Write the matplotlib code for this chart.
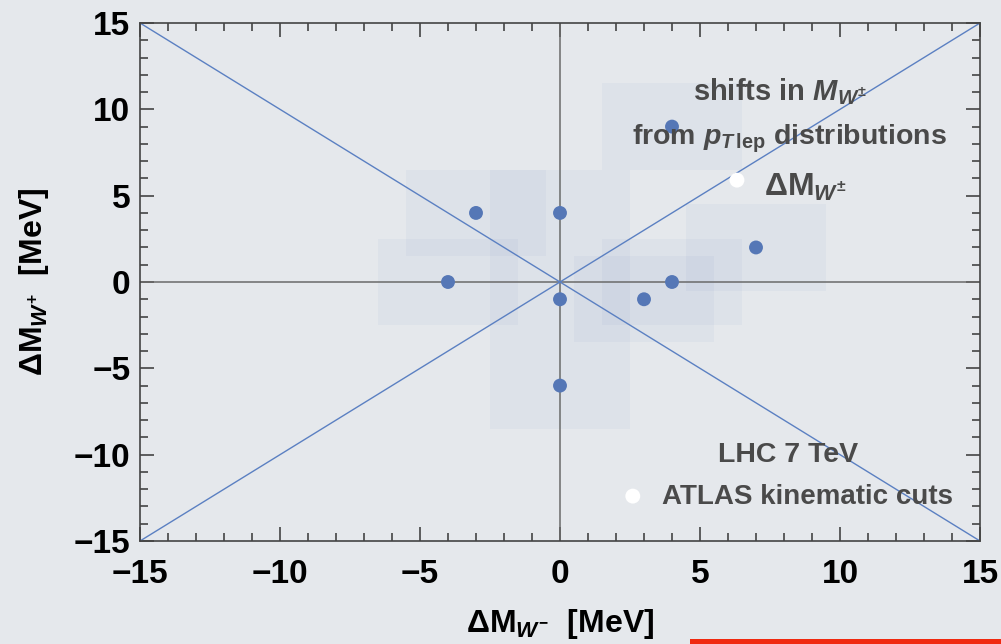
import matplotlib
matplotlib.use("Agg")
import matplotlib.pyplot as plt
from matplotlib.patches import Rectangle
from matplotlib.ticker import MultipleLocator

plt.rcParams['font.family'] = ['Liberation Sans', 'DejaVu Sans']
plt.rcParams['font.weight'] = 'bold'
plt.rcParams['mathtext.fontset'] = 'custom'
plt.rcParams['mathtext.rm'] = 'Liberation Sans:bold'
plt.rcParams['mathtext.bf'] = 'Liberation Sans:bold'
plt.rcParams['mathtext.it'] = 'Liberation Sans:bold:italic'

# Mass shifts (MeV) for W- (x) and W+ (y)
dm_wminus = [-4, -3, 0, 0, 0, 3, 4, 4, 7]
dm_wplus = [0, 4, 4, -1, -6, -1, 0, 9, 2]
half_width = 2.5  # half size of the uncertainty box around each shift

ticks = [-15, -10, -5, 0, 5, 10, 15]
lim = (-15, 15)

bg = '#e5e8ec'
blue = '#5577b6'
line_blue = '#5b80c2'
text_grey = '#4a4a4a'

fig = plt.figure(figsize=(10.01, 6.44), dpi=100, facecolor=bg)
ax = fig.add_axes([140 / 1001, 1 - 541 / 644, 840 / 1001, 518 / 644])
ax.set_facecolor(bg)
ax.set_xlim(*lim)
ax.set_ylim(*lim)

# uncertainty boxes
for x, y in zip(dm_wminus, dm_wplus):
    ax.add_patch(Rectangle((x - half_width, y - half_width), 2 * half_width, 2 * half_width,
                           facecolor=blue, alpha=0.05, edgecolor='none', zorder=1))

# reference axes and diagonals
ax.axhline(0, color='#6a6a6a', lw=1.1, zorder=2)
ax.axvline(0, color='#6a6a6a', lw=1.1, zorder=2)
ax.plot(lim, lim, color=line_blue, lw=1.0, zorder=2)
ax.plot(lim, lim[::-1], color=line_blue, lw=1.0, zorder=2)

ax.scatter(dm_wminus, dm_wplus, s=100, color=blue, edgecolors='none', zorder=4)

# in-plot annotations
ax.text(7.85, 11.0, r'shifts in $\mathit{M}_{\mathit{W}^{\pm}}$', ha='center', va='center',
        fontsize=21, color=text_grey, fontweight='bold', zorder=5)
ax.text(8.2, 8.3, r'from $\mathit{p}_{\mathit{T}\,\mathrm{lep}}$ distributions', ha='center', va='center',
        fontsize=20.5, color=text_grey, fontweight='bold', zorder=5)
ax.scatter([6.32], [5.9], s=115, color='white', edgecolors='none', zorder=5)
ax.text(7.3, 5.5, r'$\Delta\mathrm{M}_{\mathit{W}^{\pm}}$', ha='left', va='center',
        fontsize=23, color=text_grey, zorder=5)

ax.text(8.15, -10.0, 'LHC 7 TeV', ha='center', va='center',
        fontsize=20.5, color=text_grey, fontweight='bold', zorder=5)
ax.scatter([2.6], [-12.4], s=115, color='white', edgecolors='none', zorder=5)
ax.text(3.65, -12.45, 'ATLAS kinematic cuts', ha='left', va='center',
        fontsize=20, color=text_grey, fontweight='bold', zorder=5)

# ticks
ax.set_xticks(ticks)
ax.set_yticks(ticks)
ax.set_xticklabels([str(t).replace('-', '\u2212') for t in ticks])
ax.set_yticklabels([str(t).replace('-', '\u2212') for t in ticks])
ax.xaxis.set_minor_locator(MultipleLocator(1))
ax.yaxis.set_minor_locator(MultipleLocator(1))
ax.tick_params(which='both', direction='in', top=True, right=True, color='#444444', width=1.2)
ax.tick_params(which='major', length=10, labelsize=24, labelcolor='black')
ax.tick_params(axis='x', which='major', pad=13)
ax.tick_params(axis='y', which='major', pad=7)
ax.tick_params(which='minor', length=5.5)
for lab in ax.get_xticklabels() + ax.get_yticklabels():
    lab.set_fontweight('bold')
for sp in ax.spines.values():
    sp.set_color('#444444')
    sp.set_linewidth(1.2)

fig.text(560 / 1001, 1 - 624 / 644, r'$\Delta\mathrm{M}_{\mathit{W}^{-}}$  [MeV]', ha='center', va='center',
         fontsize=23, color='black', fontweight='bold')
fig.text(34 / 1001, 1 - 282 / 644, r'$\Delta\mathrm{M}_{\mathit{W}^{+}}$  [MeV]', ha='center', va='center',
         rotation=90, fontsize=23, color='black', fontweight='bold')

# red strip along the lower edge
fig.patches.append(Rectangle((690 / 1001, 0), 311 / 1001, 5 / 644, transform=fig.transFigure,
                             facecolor='#f02a10', edgecolor='none'))

fig.savefig('out.png', dpi=100, facecolor=bg)
